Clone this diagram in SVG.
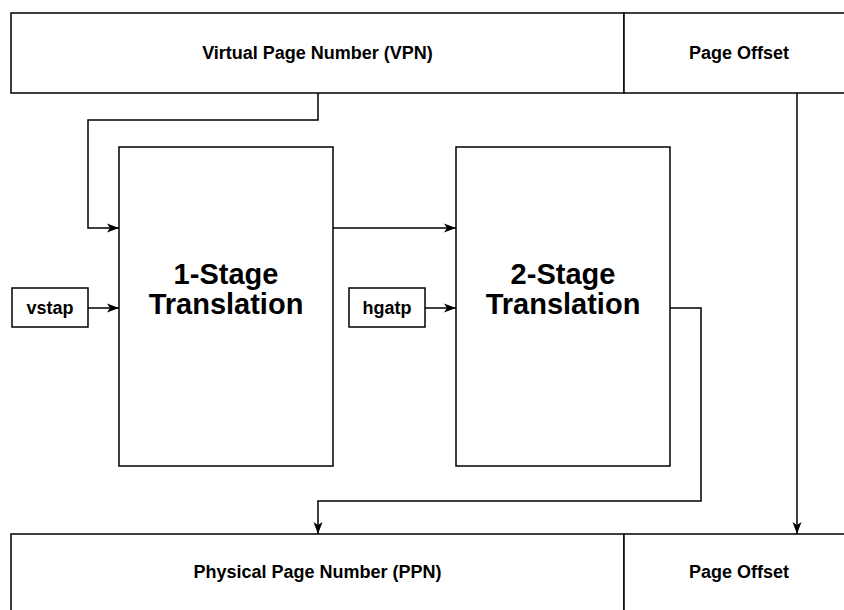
<svg xmlns="http://www.w3.org/2000/svg" width="844" height="610" viewBox="0 0 844 610">
  <style>
    .box { fill: #ffffff; stroke: #000000; stroke-width: 1.5; }
    .wire { fill: none; stroke: #000000; stroke-width: 1.5; }
    .lbl { font-family: "Liberation Sans", Arial, Helvetica, sans-serif; font-weight: bold; fill: #000000; text-anchor: middle; }
    .sm { font-size: 18px; }
    .lg { font-size: 29px; }
  </style>
  <defs>
    <marker id="arrow" viewBox="0 0 12 10" refX="12" refY="5" markerWidth="12" markerHeight="10" markerUnits="userSpaceOnUse" orient="auto">
      <path d="M0,0.5 L12,5 L0,9.5 L3,5 Z" fill="#000000"/>
    </marker>
  </defs>
  <rect width="844" height="610" fill="#ffffff"/>

  <!-- virtual address fields -->
  <g id="vpn">
    <rect class="box" x="11" y="13" width="613" height="80"/>
    <text class="lbl sm" x="317.5" y="59">Virtual Page Number (VPN)</text>
  </g>
  <g id="v-offset">
    <rect class="box" x="624" y="13" width="230" height="80"/>
    <text class="lbl sm" x="739" y="59">Page Offset</text>
  </g>

  <!-- translation stages -->
  <g id="stage1">
    <rect class="box" x="119" y="147" width="214" height="319"/>
    <text class="lbl lg" x="226" y="284">1-Stage</text>
    <text class="lbl lg" x="226" y="314">Translation</text>
  </g>
  <g id="stage2">
    <rect class="box" x="456" y="147" width="214" height="319"/>
    <text class="lbl lg" x="563" y="284">2-Stage</text>
    <text class="lbl lg" x="563" y="314">Translation</text>
  </g>

  <!-- page table base registers -->
  <g id="vstap">
    <rect class="box" x="12" y="288" width="76" height="39"/>
    <text class="lbl sm" x="50" y="314">vstap</text>
  </g>
  <g id="hgatp">
    <rect class="box" x="349" y="288" width="76" height="39"/>
    <text class="lbl sm" x="387" y="314">hgatp</text>
  </g>

  <!-- physical address fields -->
  <g id="ppn">
    <rect class="box" x="11" y="534" width="613" height="90"/>
    <text class="lbl sm" x="317.5" y="578">Physical Page Number (PPN)</text>
  </g>
  <g id="p-offset">
    <rect class="box" x="624" y="534" width="230" height="90"/>
    <text class="lbl sm" x="739" y="578">Page Offset</text>
  </g>

  <!-- connectors -->
  <g id="connectors">
    <path class="wire" d="M318,93 V120 H88 V228 H119" marker-end="url(#arrow)"/>
    <path class="wire" d="M333,228 H456" marker-end="url(#arrow)"/>
    <path class="wire" d="M88,308 H119" marker-end="url(#arrow)"/>
    <path class="wire" d="M425,308 H456" marker-end="url(#arrow)"/>
    <path class="wire" d="M670,308 H701 V501 H318 V534" marker-end="url(#arrow)"/>
    <path class="wire" d="M797,93 V534" marker-end="url(#arrow)"/>
  </g>
</svg>
